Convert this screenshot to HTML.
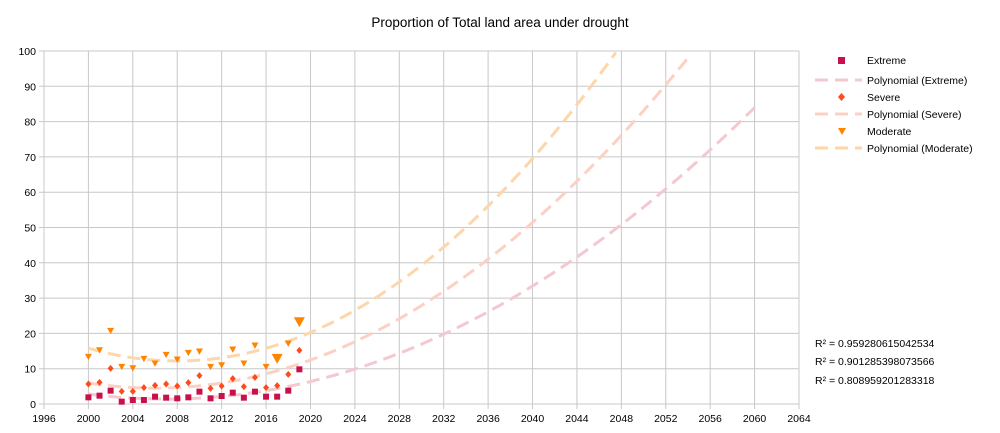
<!DOCTYPE html>
<html><head><meta charset="utf-8"><style>body{margin:0;background:#fff}svg{display:block;font-family:"Liberation Sans",sans-serif}</style></head>
<body>
<svg id="s" width="1000" height="433" viewBox="0 0 1000 433" xmlns="http://www.w3.org/2000/svg">
<rect width="1000" height="433" fill="#fff"/>
<text x="500" y="27" text-anchor="middle" font-size="13.5" fill="#000">Proportion of Total land area under drought</text>
<g id="grid"></g>
<g id="trend" fill="none" stroke-width="3" stroke-dasharray="13 7"></g>
<g id="pts"></g>
<g font-size="10.5" fill="#000">
<rect x="838" y="57" width="7" height="7" fill="#c8104a"/>
<text x="867" y="64">Extreme</text>
<line x1="815" y1="80" x2="862" y2="80" stroke="#f4c8d0" stroke-width="3" stroke-dasharray="13 7"/>
<text x="867" y="84">Polynomial (Extreme)</text>
<path d="M841.5 93 l3.5 4 l-3.5 4 l-3.5 -4z" fill="#ff4a1c"/>
<text x="867" y="101">Severe</text>
<line x1="815" y1="114" x2="862" y2="114" stroke="#fcd0c2" stroke-width="3" stroke-dasharray="13 7"/>
<text x="867" y="118">Polynomial (Severe)</text>
<path d="M838 128 h8 l-4 7z" fill="#ff8500"/>
<text x="867" y="135">Moderate</text>
<line x1="815" y1="148" x2="862" y2="148" stroke="#fdd6aa" stroke-width="3" stroke-dasharray="13 7"/>
<text x="867" y="152">Polynomial (Moderate)</text>
<text x="815" y="347">R² = 0.959280615042534</text>
<text x="815" y="365">R² = 0.901285398073566</text>
<text x="815" y="384">R² = 0.808959201283318</text>
</g>
</svg>
<script>
const NS="http://www.w3.org/2000/svg";
const X=y=>44+(y-1996)*(755/68), Y=v=>404-v*3.53;
function el(p,t,a){const e=document.createElementNS(NS,t);for(const k in a)e.setAttribute(k,a[k]);document.getElementById(p).appendChild(e);return e;}
for(let yr=1996;yr<=2064;yr+=4){const x=X(yr);el('grid','line',{x1:x,y1:51,x2:x,y2:409,stroke:'#c8c8c8'});const t=el('grid','text',{x:x,y:422,'text-anchor':'middle','font-size':10.5});t.textContent=yr;}
for(let v=0;v<=100;v+=10){const y=Y(v);el('grid','line',{x1:39,y1:y,x2:799,y2:y,stroke:'#c8c8c8'});const t=el('grid','text',{x:36,y:y+4,'text-anchor':'end','font-size':10.5});t.textContent=v;}
function trend(a,t0,c,col){let d='';for(let t=2000;t<=2060;t+=0.25){const v=a*(t-t0)*(t-t0)+c;if(v>100)break;d+=(d?'L':'M')+X(t).toFixed(1)+' '+Y(v).toFixed(1);}el('trend','path',{d:d,stroke:col});}
trend(0.0294,2007,1.4,'#f4c8d0');trend(0.0406,2006,4.5,'#fcd0c2');trend(0.056,2008,12.2,'#fdd6aa');
const ex=[262,257,242,275,270,270,260,263,265,262,245,265,258,248,263,245,260,260,242,178];
const sv=[222,217,175,244,244,233,226,222,228,218,197,235,228,206,230,202,233,227,193,121];
const md=[140,120,62,170,174,146,160,134,148,128,124,170,165,118,160,106,170,145,100,35];
for(let i=0;i<20;i++){const x=X(2000+i);
let y=310+ex[i]/3;el('pts','rect',{x:x-3,y:y-3,width:6,height:6,fill:'#c8104a'});
y=310+sv[i]/3;el('pts','path',{d:`M${x} ${y-3.5}l3 3.5l-3 3.5l-3-3.5z`,fill:'#ff4a1c'});
y=310+md[i]/3;const s=(i==17||i==19)?5.5:3.5;el('pts','path',{d:`M${x-s} ${y-s*0.8}h${2*s}l-${s} ${s*1.8}z`,fill:'#ff8500'});}
</script>
</body></html>
